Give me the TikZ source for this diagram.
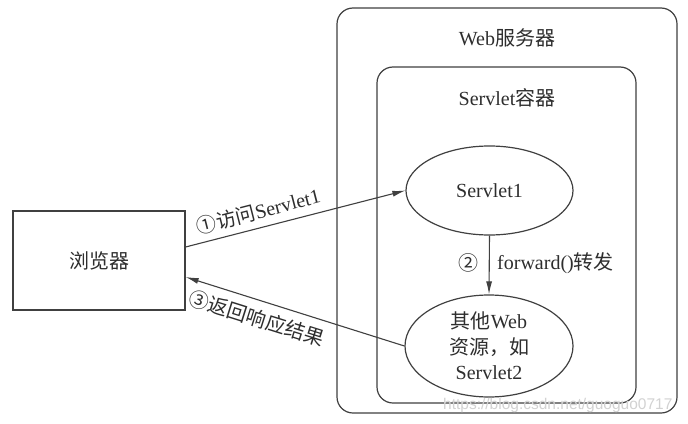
\documentclass[tikz,border=0pt]{standalone}
\usepackage{fontspec}
\setmainfont{Liberation Serif}
\newfontfamily\cjk{Noto Sans CJK SC}
\newfontfamily\wmfont{Liberation Sans}
\usetikzlibrary{shapes.geometric,arrows.meta}
\definecolor{ink}{gray}{0.18}
\definecolor{linec}{gray}{0.25}
\begin{document}
\begin{tikzpicture}[x=1pt,y=-1pt,
  every node/.style={text=ink,font=\fontsize{20}{25.5}\selectfont},
  frame/.style={draw=linec,line width=1.2pt,rounded corners=16pt,inner sep=0pt},
  plainbox/.style={draw=linec,line width=1.2pt,inner sep=0pt},
  oval/.style={ellipse,draw=linec,line width=1.2pt,inner sep=0pt,align=center},
  arr/.style={draw=linec,line width=1.1pt,-{Latex[length=13pt,width=6pt]}},
  rarr/.style={draw=linec,line width=1.1pt,{Latex[length=13pt,width=6pt]}-},
  lbl/.style={inner sep=2pt}
]
\useasboundingbox (0,0) rectangle (688,423);
\fill[white] (0,0) rectangle (688,423);

% Web server box
\node[frame,minimum width=340pt,minimum height=405pt] (server) at (507,210.5) {};
\node (servertitle) at (507,38) {Web{\cjk 服务器}};

% Servlet container box
\node[frame,minimum width=259pt,minimum height=336pt] (container) at (506.5,235) {};
\node (containertitle) at (507,98) {Servlet{\cjk 容器}};

% Browser
\node[plainbox,minimum width=172pt,minimum height=99pt] (browser) at (99,260.5) {{\cjk 浏览器}};

% Servlets
\node[oval,minimum width=167pt,minimum height=89pt] (s1) at (489.5,190.5) {Servlet1};
\node[oval,minimum width=168pt,minimum height=102pt] (other) at (489,346)
  {{\cjk 其他}Web\\{\cjk 资源，如}\\Servlet2};

% Connectors
\draw[arr] ([yshift=13.5pt]browser.east) --
  node[lbl,sloped,above=5pt,pos=0.35] (l1) {{\cjk ①访问}Servlet1} (s1.west);
\draw[rarr] ([yshift=-16.5pt]browser.east) --
  node[lbl,sloped,below=6pt,pos=0.35] (l3) {{\cjk ③返回响应结果}} (other.west);
\draw[arr] (s1.south) -- (other.north);
\node (l2a) at (468,263) {{\cjk ②}};
\node[anchor=west,inner sep=0pt] (l2b) at (497,263) {forward(){\cjk 转发}};

% watermark
\node[text=gray!35,font=\wmfont\fontsize{15.5}{18}\selectfont,anchor=west,inner sep=0pt] (wm) at (443,405) {https://blog.csdn.net/guoguo0717};
\end{tikzpicture}
\end{document}
